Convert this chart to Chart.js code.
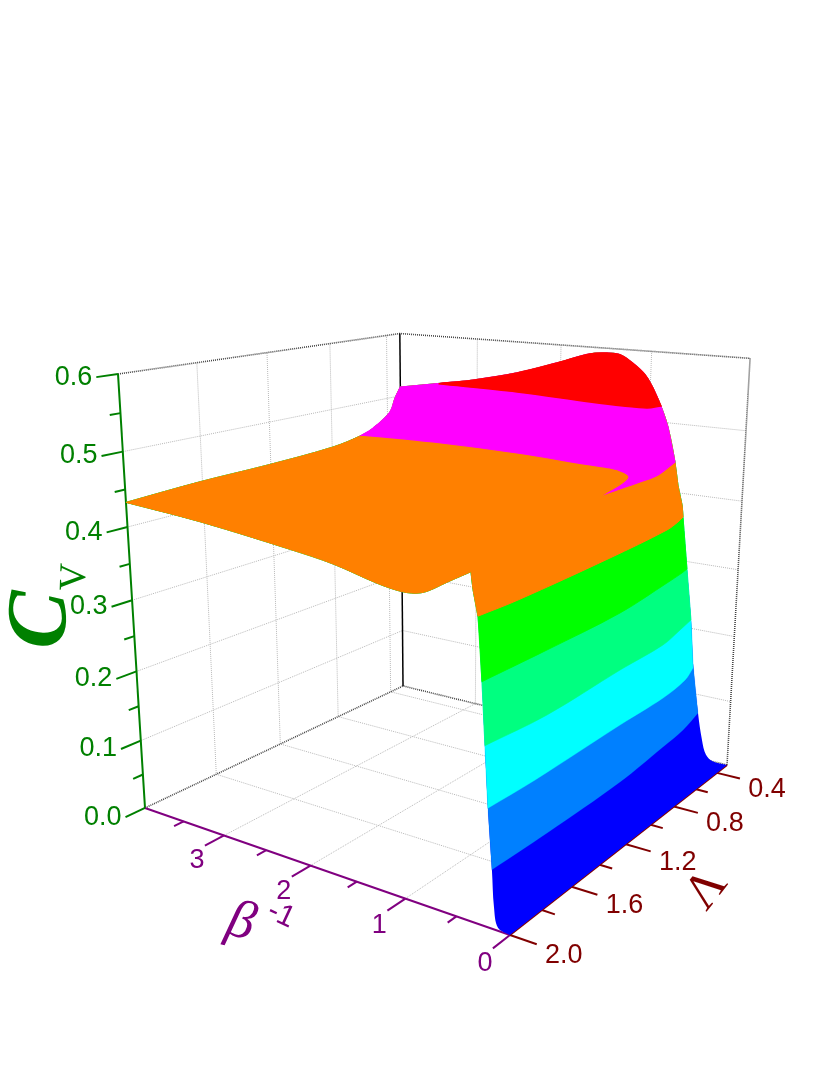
<!DOCTYPE html>
<html>
<head>
<meta charset="utf-8">
<style>
  html, body { margin: 0; background: #fff; }
  canvas { display: block; }
</style>
<script src="https://cdn.jsdelivr.net/npm/chart.js@4"></script>
</head>
<body>
<canvas id="chart" width="830" height="1075"></canvas>
<script>
// --- Tick values ---
const betaMajor = [0, 1, 2, 3];
const betaMinor = [0.5, 1.5, 2.5, 3.5];
const lambdaMajor = [0.4, 0.8, 1.2, 1.6, 2.0];
const lambdaMinor = [0.6, 1.0, 1.4, 1.8];
const cvMajor = [0, 0.1, 0.2, 0.3, 0.4, 0.5, 0.6];
const cvMinor = [0.05, 0.15, 0.25, 0.35, 0.45, 0.55];
const betaGrid = [1, 2, 3];
const lambdaGrid = [0.4, 0.8, 1.2, 1.6];
const cvGrid = [0.1, 0.2, 0.3, 0.4, 0.5];

// --- Surface edges ---
// lambda = 0.3 edge: beta, Cv
const edgeLowBeta = [0, 0.15, 0.229, 0.28, 0.337, 0.417, 0.461, 0.529, 0.596, 0.612, 0.664, 0.706, 0.796, 0.879, 0.971, 1.061, 1.195, 1.338, 1.481, 1.67, 2.042, 2.512, 3.052, 3.435, 4];
const edgeLowCv = [0, 0, 0.008, 0.03, 0.071, 0.147, 0.213, 0.289, 0.365, 0.383, 0.411, 0.444, 0.494, 0.523, 0.548, 0.566, 0.581, 0.592, 0.593, 0.59, 0.573, 0.553, 0.536, 0.527, 0.514];
// beta = 4 edge: lambda, Cv
const edgeFarLambda = [0.3, 0.341, 0.381, 0.509, 0.589, 0.794, 1.223, 1.613, 2];
const edgeFarCv = [0.514, 0.498, 0.477, 0.457, 0.45, 0.442, 0.438, 0.437, 0.433];
// lambda = 2.0 edge: beta, Cv (the ridge value is listed twice to keep its corner sharp)
const edgeHighBeta = [4, 3.111, 2.121, 1.678, 1.245, 1.025, 0.884, 0.772, 0.589, 0.376, 0.376, 0.357, 0.312, 0.273, 0.242, 0.211, 0.17, 0.149, 0.11, 0];
const edgeHighCv = [0.433, 0.425, 0.411, 0.403, 0.39, 0.386, 0.387, 0.392, 0.407, 0.424, 0.424, 0.404, 0.374, 0.298, 0.222, 0.148, 0.073, 0.029, 0.004, 0];

// --- Colour levels and the line where the surface crosses each: [beta, lambda] ---
const levels = [0.075, 0.15, 0.225, 0.3, 0.375, 0.45, 0.525];
const contour075 = [[0.171, 2], [0.152, 1.666], [0.148, 1.143], [0.199, 0.746], [0.232, 0.537], [0.309, 0.327]];
const contour150 = [[0.212, 2], [0.193, 1.723], [0.201, 1.116], [0.195, 0.768], [0.243, 0.53], [0.331, 0.378]];
const contour225 = [[0.243, 2], [0.188, 1.657], [0.222, 1.113], [0.227, 0.761], [0.297, 0.55], [0.35, 0.403]];
const contour300 = [[0.274, 2], [0.258, 1.615], [0.257, 1.1], [0.349, 0.641], [0.388, 0.474], [0.412, 0.407]];
const contour375 = [[0.312, 2], [0.292, 1.78], [0.317, 1.143], [0.369, 0.644], [0.426, 0.498], [0.477, 0.407]];
// the hook tip is listed twice to keep it sharp
const contour450 = [[4, 0.587], [3.144, 0.552], [2.107, 0.566], [1.214, 0.622], [0.99, 0.632], [0.801, 0.674], [0.648, 0.747], [0.548, 0.876], [0.476, 1.047], [0.476, 1.047], [0.465, 0.807], [0.474, 0.65], [0.622, 0.375]];
const contour525 = [[3.493, 0.3], [2.48, 0.319], [1.529, 0.396], [1.143, 0.416], [0.897, 0.409], [0.844, 0.33]];
const contours = [contour075, contour150, contour225, contour300, contour375, contour450, contour525];
const bandColors = ["#0000ff", "#0080ff", "#00ffff", "#00ff80", "#00ff00", "#ff8000", "#ff00ff", "#ff0000"];
// each band strokes wider than the one below so no lower colour shows along the rim
const bandStrokes = [0, 0.2, 0.4, 0.6, 0.8, 1, 1.2, 1.4];

const GREEN = "#008000";
const PURPLE = "#800080";
const MAROON = "#800000";

// --- 3D box to page projection (camera fitted to the box corners) ---
const BETA_MAX = 4;
const LAMBDA_MIN = 0.3, LAMBDA_MAX = 2;
const CV_MAX = 0.6;

function project(beta, lambda, cv) {
    const u = beta / BETA_MAX;
    const v = (LAMBDA_MAX - lambda) / (LAMBDA_MAX - LAMBDA_MIN);
    const w = cv / CV_MAX;
    const d = 1 + 0.2055 * u + 0.2902 * v - 0.0986 * w;
    return {
        x: (510 - 335.2 * u + 428 * v - 44.2 * w) / d,
        y: (935 + 39 * u + 52 * v - 560 * w) / d
    };
}

// Ticks stick out along the box edges, in box units
const TICK_MAJOR = 0.06, TICK_MINOR = 0.03;

function tickEndOnCv(cv, t) {
    return project(BETA_MAX, LAMBDA_MAX + t * (LAMBDA_MAX - LAMBDA_MIN), cv);
}
function tickEndOnBeta(beta, t) {
    return project(beta, LAMBDA_MAX + t * (LAMBDA_MAX - LAMBDA_MIN), 0);
}
function tickEndOnLambda(lambda, t) {
    return project(-t * BETA_MAX, lambda, 0);
}

// --- Datasets, in painting order ---
const datasets = [];

function addLine(points, color, width, dash) {
    datasets.push({
        data: points,
        showLine: true,
        fill: false,
        borderColor: color,
        borderWidth: width,
        borderDash: dash || [],
        pointRadius: 0,
        clip: false
    });
}

function addShape(points, color, stroke) {
    datasets.push({
        data: points.concat([points[0]]),
        showLine: true,
        fill: "shape",
        tension: 0.35,
        backgroundColor: color,
        borderColor: color,
        borderWidth: stroke,
        pointRadius: 0,
        clip: false
    });
}

// Grid on the floor and the two walls
const GRID = "#b8b8b8";
const DOTS = [1, 1];
betaGrid.forEach(b => {
    addLine([project(b, LAMBDA_MAX, 0), project(b, LAMBDA_MIN, 0), project(b, LAMBDA_MIN, CV_MAX)], GRID, 1, DOTS);
});
lambdaGrid.forEach(l => {
    addLine([project(0, l, 0), project(BETA_MAX, l, 0), project(BETA_MAX, l, CV_MAX)], GRID, 1, DOTS);
});
cvGrid.forEach(c => {
    addLine([project(BETA_MAX, LAMBDA_MAX, c), project(BETA_MAX, LAMBDA_MIN, c), project(0, LAMBDA_MIN, c)], GRID, 1, DOTS);
});

// Box edges
const EDGE = "#444444";
addLine([project(BETA_MAX, LAMBDA_MAX, CV_MAX), project(BETA_MAX, LAMBDA_MIN, CV_MAX), project(0, LAMBDA_MIN, CV_MAX), project(0, LAMBDA_MIN, 0)], EDGE, 1.6, DOTS);
addLine([project(BETA_MAX, LAMBDA_MAX, 0), project(BETA_MAX, LAMBDA_MIN, 0), project(0, LAMBDA_MIN, 0)], EDGE, 1.6, DOTS);
addLine([project(BETA_MAX, LAMBDA_MIN, 0), project(BETA_MAX, LAMBDA_MIN, CV_MAX)], "#000000", 1.5);

// Axes and ticks
addLine([project(BETA_MAX, LAMBDA_MAX, 0), project(BETA_MAX, LAMBDA_MAX, CV_MAX)], GREEN, 2);
addLine([project(0, LAMBDA_MAX, 0), project(BETA_MAX, LAMBDA_MAX, 0)], PURPLE, 2);
addLine([project(0, LAMBDA_MAX, 0), project(0, LAMBDA_MIN, 0)], MAROON, 2);
cvMajor.forEach(c => addLine([project(BETA_MAX, LAMBDA_MAX, c), tickEndOnCv(c, TICK_MAJOR)], GREEN, 2));
cvMinor.forEach(c => addLine([project(BETA_MAX, LAMBDA_MAX, c), tickEndOnCv(c, TICK_MINOR)], GREEN, 2));
betaMajor.forEach(b => addLine([project(b, LAMBDA_MAX, 0), tickEndOnBeta(b, TICK_MAJOR)], PURPLE, 2));
betaMinor.forEach(b => addLine([project(b, LAMBDA_MAX, 0), tickEndOnBeta(b, TICK_MINOR)], PURPLE, 2));
lambdaMajor.forEach(l => addLine([project(0, l, 0), tickEndOnLambda(l, TICK_MAJOR)], MAROON, 2));
lambdaMinor.forEach(l => addLine([project(0, l, 0), tickEndOnLambda(l, TICK_MINOR)], MAROON, 2));

// Repeating the ends of a run makes the curve turn sharply there
function sharpEnds(pts) {
    return pts.length ? [pts[0]].concat(pts, [pts[pts.length - 1]]) : pts;
}

// Surface: start from the whole outline in the lowest colour, then paint what
// lies above each level on top of it
function outlineAbove(level) {
    const low = [], far = [], high = [];
    edgeLowBeta.forEach((b, i) => { if (edgeLowCv[i] >= level) low.push(project(b, LAMBDA_MIN, edgeLowCv[i])); });
    edgeFarLambda.forEach((l, i) => { if (edgeFarCv[i] >= level) far.push(project(BETA_MAX, l, edgeFarCv[i])); });
    edgeHighBeta.forEach((b, i) => { if (edgeHighCv[i] >= level) high.push(project(b, LAMBDA_MAX, edgeHighCv[i])); });
    return sharpEnds(low).concat(sharpEnds(far), sharpEnds(high));
}

addShape(outlineAbove(0), bandColors[0], bandStrokes[0]);
levels.forEach((level, i) => {
    const line = contours[i].map(p => project(p[0], p[1], level));
    addShape(sharpEnds(line).concat(outlineAbove(level)), bandColors[i + 1], bandStrokes[i + 1]);
});

// Chart.js draws the lowest order on top
datasets.forEach((d, i) => { d.order = -i; });

// --- Tick labels and axis titles ---
function drawText(ctx, text, x, y, font, color, align, angle) {
    ctx.save();
    ctx.translate(x, y);
    ctx.rotate((angle || 0) * Math.PI / 180);
    ctx.font = font;
    ctx.fillStyle = color;
    ctx.textAlign = align || "center";
    ctx.textBaseline = "middle";
    ctx.fillText(text, 0, 0);
    ctx.restore();
}

const textPlugin = {
    id: "boxText",
    afterDraw(chart) {
        const ctx = chart.ctx;
        const sx = chart.scales.x, sy = chart.scales.y;
        const px = p => ({ x: sx.getPixelForValue(p.x), y: sy.getPixelForValue(p.y) });
        const tickFont = "27px 'Liberation Sans'";

        cvMajor.forEach(c => {
            const p = px(tickEndOnCv(c, TICK_MAJOR));
            drawText(ctx, c.toFixed(1), p.x - 4, p.y, tickFont, GREEN, "right");
        });
        betaMajor.forEach(b => {
            const p = px(tickEndOnBeta(b, TICK_MAJOR));
            drawText(ctx, String(b), p.x - 8, p.y + 15, tickFont, PURPLE);
        });
        lambdaMajor.forEach(l => {
            const p = px(tickEndOnLambda(l, TICK_MAJOR));
            drawText(ctx, l.toFixed(1), p.x + 27, p.y + 11, tickFont, MAROON);
        });

        drawText(ctx, "C", 43, 620, "italic bold 86px 'Liberation Serif'", GREEN, "center", -88);
        drawText(ctx, "V", 75, 577, "38px 'Liberation Serif'", GREEN, "center", -88);
        drawText(ctx, "\u03B2", 241, 923, "italic 54px 'Liberation Serif'", PURPLE, "center", 15);
        drawText(ctx, "-1", 281, 915, "30px 'Liberation Sans'", PURPLE, "center", 25);
        drawText(ctx, "\u039B", 707, 890, "50px 'Liberation Serif'", MAROON, "center", -52);
    }
};

new Chart(document.getElementById("chart"), {
    type: "scatter",
    data: { datasets: datasets },
    options: {
        responsive: false,
        animation: false,
        layout: { padding: 0 },
        plugins: { legend: { display: false }, tooltip: { enabled: false } },
        scales: {
            x: { display: false, min: 0, max: 830 },
            y: { display: false, min: 0, max: 1075, reverse: true }
        }
    },
    plugins: [textPlugin]
});
</script>
</body>
</html>
